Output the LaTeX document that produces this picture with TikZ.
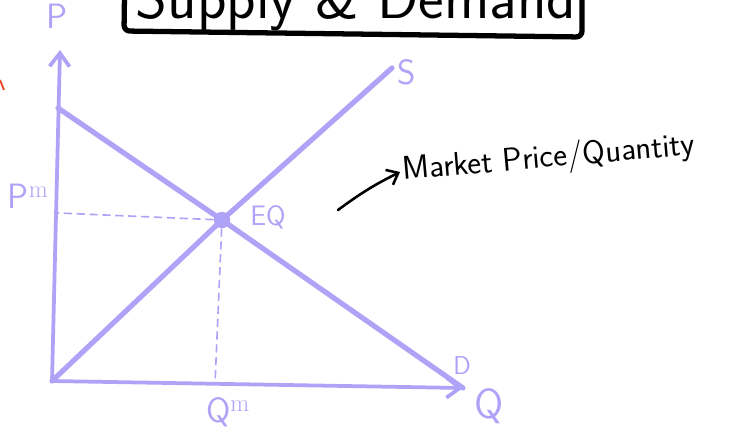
\documentclass[tikz,border=0pt]{standalone}
\usepackage{fontspec}
\usepackage{tikz}
\usetikzlibrary{arrows.meta,positioning}
\definecolor{sdlav}{HTML}{AFA3F7}
\definecolor{sdred}{HTML}{F04A2A}
\begin{document}
\begin{tikzpicture}[x=0.03cm,y=-0.03cm,>={Straight Barb[length=4mm,width=6mm]},
    axis/.style={sdlav,line width=3.2pt,line cap=round},
    curve/.style={sdlav,line width=4.4pt,line cap=round},
    guide/.style={sdlav,line width=1.4pt,dash pattern=on 7pt off 4pt},
    lab/.style={sdlav,font=\sffamily\fontsize{30}{34}\selectfont,inner sep=0pt}]
    \useasboundingbox (0,0) rectangle (734,440);
    \fill[white] (0,0) rectangle (734,440);
    % title box, cut by the top edge
    \begin{scope}
      \clip (0,0) rectangle (734,440);
      \draw[line width=4.5pt,rounded corners=5pt] (125,-40) -- (124,31) -- (582,37) -- (582,-40);
      \node[font=\sffamily\fontsize{52}{60}\selectfont,anchor=base] (title) at (356,18) {Supply \& Demand};
    \end{scope}
    \draw[sdred,line width=1.6pt] (0,80) -- (4,90);
    % axes
    \coordinate (origin) at (52,381);
    \coordinate (ptop) at (60,50);
    \coordinate (qend) at (463,388);
    \draw[axis,->] (origin) -- (ptop);
    \draw[axis,->] (origin) -- (qend);
    \node[lab] (plab) at (57,16) {P};
    \node[lab,font=\sffamily\fontsize{36}{40}\selectfont] (qlab) at (489,406) {Q};
    % supply and demand
    \node[circle,fill=sdlav,minimum size=14pt,inner sep=0pt] (eq) at (222,220) {};
    \coordinate (dtop) at (58,108);
    \coordinate (stop) at (392,68);
    \draw[curve] (dtop) -- (eq.center) -- (qend);
    \draw[curve] (origin) -- (eq.center) -- (stop);
    \node[lab] (slab) at (407,72) {S};
    \node[lab,font=\sffamily\fontsize{22}{26}\selectfont] (dlab) at (462,366) {D};
    \node[lab,font=\sffamily\fontsize{24}{28}\selectfont] (eqlab) at (268,217) {EQ};
    % market price and quantity
    \coordinate (pm) at (58,213);
    \coordinate (qm) at (215,384);
    \draw[guide] (eq) -- (pm);
    \draw[guide] (eq) -- (qm);
    \node[lab] (pmlab) at (28,196) {P$^{\mathrm{m}}$};
    \node[lab] (qmlab) at (228,412) {Q$^{\mathrm{m}}$};
    \node[font=\sffamily\fontsize{28}{32}\selectfont,rotate=5,anchor=west,inner sep=2pt] (market) at (400,172) {Market Price/Quantity};
    \coordinate (mkstart) at (338,210);
    \draw[->,line width=2.2pt,line cap=round,>={Straight Barb[length=3mm,width=5mm]}] (mkstart) to[bend left=5] (market.west);
  \end{tikzpicture}
\end{document}
